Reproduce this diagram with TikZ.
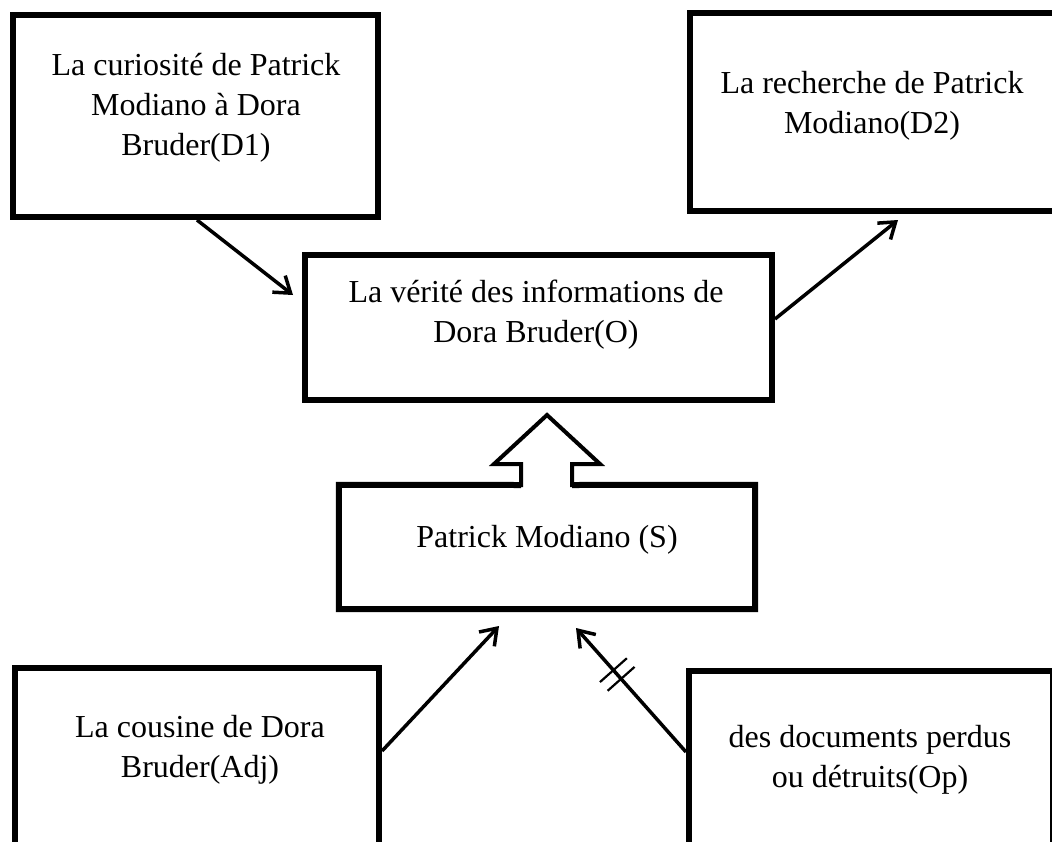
\documentclass[tikz,border=0pt]{standalone}
\usepackage{fontspec}
\setmainfont{Liberation Serif}
\usetikzlibrary{arrows.meta,calc}
\begin{document}
\begin{tikzpicture}[x=1pt,y=-1pt,
  boxnode/.style={draw=black,line width=6pt,rectangle,inner sep=0pt,fill=none},
  txt/.style={font=\fontsize{32}{40}\selectfont,anchor=base,inner sep=0pt},
  conn/.style={line width=3.5pt,-{Straight Barb[length=15pt,width=21pt,line width=3.5pt]}},
  tickline/.style={line width=2.2pt},
  hollow/.style={line width=4pt,line join=miter}]
\useasboundingbox (0,0) rectangle (1052,841);
\clip (0,0) rectangle (1052,841);
\fill[white] (0,0) rectangle (1052,841);
% boxes
\node[boxnode,minimum width=365pt,minimum height=202pt] (D1) at (195.5,116) {};
\node[boxnode,minimum width=390pt,minimum height=198pt] (D2) at (885,112) {};
\node[boxnode,minimum width=467pt,minimum height=145pt] (O) at (538.5,327.5) {};
\node[rectangle,inner sep=0pt,minimum width=416pt,minimum height=124pt] (S) at (547,547) {};
\node[boxnode,minimum width=364pt,minimum height=232pt] (Adj) at (197,784) {};
\node[boxnode,minimum width=364pt,minimum height=229pt] (Op) at (871,785.5) {};
% subject box with hollow arrow
\draw[line width=6pt,line join=miter] (521,485) -- (S.north west) -- (S.south west) -- (S.south east) -- (S.north east) -- (572,485);
\draw[hollow] (521,487) -- (521,464) -- (494,464) -- (547,415) -- (600,464) -- (572,464) -- (572,487);
% texts
\node[txt] (D1t) at (196,75) {\begin{tabular}[t]{@{}c@{}}La curiosité de Patrick\\Modiano à Dora\\Bruder(D1)\end{tabular}};
\node[txt] (D2t) at (872,93) {\begin{tabular}[t]{@{}c@{}}La recherche de Patrick\\Modiano(D2)\end{tabular}};
\node[txt] (Ot) at (536,302) {\begin{tabular}[t]{@{}c@{}}La vérité des informations de\\Dora Bruder(O)\end{tabular}};
\node[txt] (St) at (547,547) {Patrick Modiano (S)};
\node[txt] (Adjt) at (200,737) {\begin{tabular}[t]{@{}c@{}}La cousine de Dora\\Bruder(Adj)\end{tabular}};
\node[txt] (Opt) at (870,747) {\begin{tabular}[t]{@{}c@{}}des documents perdus\\ou détruits(Op)\end{tabular}};
% connector end points
\coordinate (oIn) at (293,295);
\coordinate (d2In) at (898,220);
\coordinate (sAdj) at (499,626);
\coordinate (sOp) at (576,628);
\coordinate (d1Out) at ($(D1.south)+(1.5,0)$);
\coordinate (oOut) at ($(O.east)+(0,-8.5)$);
\coordinate (adjOut) at ($(Adj.north east)+(0,86)$);
\coordinate (opOut) at ($(Op.north west)+(0,84)$);
% connectors
\draw[conn] (d1Out) -- (oIn);
\draw[conn] (oOut) -- (d2In);
\draw[conn] (adjOut) -- (sAdj);
\draw[conn] (opOut) -- (sOp) coordinate[pos=0.59] (t1) coordinate[pos=0.66] (t2);
\draw[tickline] ($(t1)!18pt!90:(sOp)$) -- ($(t1)!18pt!-90:(sOp)$);
\draw[tickline] ($(t2)!18pt!90:(sOp)$) -- ($(t2)!18pt!-90:(sOp)$);
\end{tikzpicture}
\end{document}
